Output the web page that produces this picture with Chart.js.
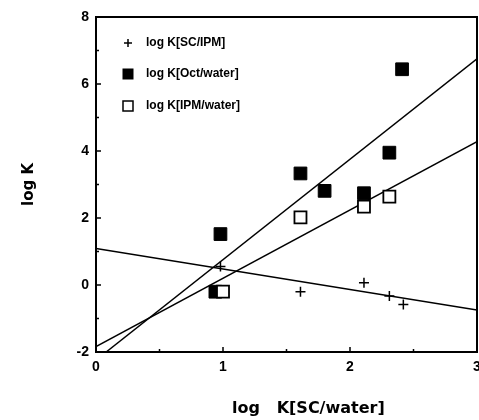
<html>
<head>
<script src="https://cdn.jsdelivr.net/npm/chart.js@4.4.0/dist/chart.umd.min.js"></script>
<style>
  body { margin:0; background:#fff; }
  #wrap { width:479px; height:420px; }
</style>
</head>
<body>
<div id="wrap"><canvas id="c"></canvas></div>
<script>
// log K[SC/water] on x
var plusX = [0.98, 1.61, 2.11, 2.31, 2.42];
var plusY = [0.55, -0.2, 0.07, -0.33, -0.58];      // log K[SC/IPM]
var octX = [0.94, 0.98, 1.61, 1.80, 2.11, 2.31, 2.41];
var octY = [-0.2, 1.52, 3.33, 2.81, 2.74, 3.95, 6.44]; // log K[Oct/water]
var ipmX = [1.00, 1.61, 2.11, 2.31];
var ipmY = [-0.2, 2.02, 2.34, 2.64];               // log K[IPM/water]

// regression lines, end points
var fitScIpmX = [0, 3], fitScIpmY = [1.09, -0.75];
var fitOctX = [0.08, 3], fitOctY = [-2, 6.75];
var fitIpmX = [0, 3], fitIpmY = [-1.84, 4.28];

var legendLabels = ['log K[SC/IPM]', 'log K[Oct/water]', 'log K[IPM/water]'];
var xTitle = 'log   K[SC/water]';

function pts(xs, ys) {
  var out = [];
  for (var i = 0; i < xs.length; i++) out.push({x: xs[i], y: ys[i]});
  return out;
}

var FONT = "'Liberation Sans', Arial, sans-serif";

var frame = {
  id: 'frame',
  afterDraw: function(chart) {
    var ctx = chart.ctx, a = chart.chartArea;
    var xs = chart.scales.x, ys = chart.scales.y;
    ctx.save();
    ctx.strokeStyle = '#000';
    ctx.lineWidth = 2;
    ctx.strokeRect(a.left, a.top, a.right - a.left, a.bottom - a.top);
    ctx.lineWidth = 1.5;
    ctx.beginPath();
    for (var v = -2; v <= 8; v += 1) {
      var py = ys.getPixelForValue(v);
      var len = (v % 2 === 0) ? 5 : 3;
      ctx.moveTo(a.left, py); ctx.lineTo(a.left + len, py);
    }
    for (var u = 0; u <= 3; u += 0.5) {
      var px = xs.getPixelForValue(u);
      var l2 = (u % 1 === 0) ? 5 : 3;
      ctx.moveTo(px, a.bottom); ctx.lineTo(px, a.bottom - l2);
    }
    ctx.stroke();

    // legend inside plot
    ctx.font = 'bold 12px ' + FONT;
    ctx.fillStyle = '#000';
    ctx.textBaseline = 'middle';
    var lx = 128, ly = [43, 74, 106];
    ctx.lineWidth = 1.5;
    ctx.beginPath();
    ctx.moveTo(lx - 4, ly[0]); ctx.lineTo(lx + 4, ly[0]);
    ctx.moveTo(lx, ly[0] - 4); ctx.lineTo(lx, ly[0] + 4);
    ctx.stroke();
    ctx.fillRect(lx - 5.5, ly[1] - 5.5, 11, 11);
    ctx.lineWidth = 1.5;
    ctx.strokeRect(lx - 5, ly[2] - 5, 10, 10);
    for (var k = 0; k < 3; k++) ctx.fillText(legendLabels[k], 146, ly[k]);

    // x axis title
    ctx.font = "bold 16px 'DejaVu Sans', sans-serif";
    ctx.textAlign = 'left';
    ctx.fillText(xTitle, 232, 409);
    ctx.restore();
  }
};

new Chart(document.getElementById('c'), {
  type: 'scatter',
  data: {
    datasets: [
      {
        label: legendLabels[0],
        data: pts(plusX, plusY),
        pointStyle: 'cross',
        pointRadius: 5,
        borderColor: '#000',
        borderWidth: 1.5
      },
      {
        label: legendLabels[2],
        data: pts(ipmX, ipmY),
        pointStyle: 'rect',
        pointRadius: 8.5,
        backgroundColor: '#fff',
        borderColor: '#000',
        borderWidth: 1.8
      },
      {
        label: legendLabels[1],
        data: pts(octX, octY),
        pointStyle: 'rect',
        pointRadius: 9,
        backgroundColor: '#000',
        borderColor: '#000',
        borderWidth: 1
      },
      { data: pts(fitScIpmX, fitScIpmY), showLine: true, pointRadius: 0, borderColor: '#000', borderWidth: 1.5 },
      { data: pts(fitOctX, fitOctY), showLine: true, pointRadius: 0, borderColor: '#000', borderWidth: 1.5 },
      { data: pts(fitIpmX, fitIpmY), showLine: true, pointRadius: 0, borderColor: '#000', borderWidth: 1.5 }
    ]
  },
  options: {
    responsive: true,
    maintainAspectRatio: false,
    animation: false,
    layout: { autoPadding: false, padding: { left: 0, right: 2, top: 17, bottom: 0 } },
    plugins: { legend: { display: false }, tooltip: { enabled: false } },
    scales: {
      x: {
        type: 'linear', min: 0, max: 3,
        grid: { display: false, drawTicks: false },
        border: { display: false },
        ticks: { stepSize: 1, padding: 7, color: '#000', font: { family: FONT, size: 14, weight: 'bold' } },
        title: { display: false },
        afterFit: function(s) { s.height = 68; s.paddingRight = 0; s.paddingLeft = 0; }
      },
      y: {
        type: 'linear', min: -2, max: 8,
        grid: { display: false, drawTicks: false },
        border: { display: false },
        ticks: { stepSize: 2, padding: 7, color: '#000', font: { family: FONT, size: 14, weight: 'bold' } },
        title: { display: true, text: 'log K', color: '#000', padding: { top: 20, bottom: 0 },
                 font: { family: "'DejaVu Sans', sans-serif", size: 15, weight: 'bold' } },
        afterFit: function(s) { s.width = 96; s.paddingTop = 0; s.paddingBottom = 0; }
      }
    }
  },
  plugins: [frame]
});
</script>
</body>
</html>
